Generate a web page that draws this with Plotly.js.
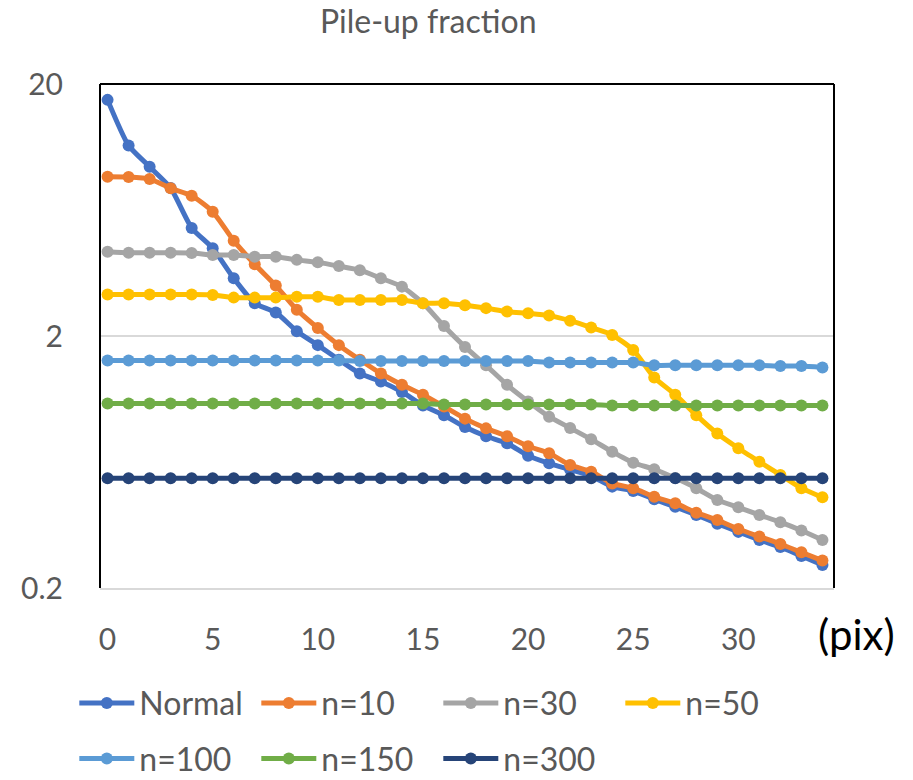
<!DOCTYPE html>
<html>
<head>
<meta charset="utf-8">
<script src="https://cdn.plot.ly/plotly-3.0.1.min.js"></script>
<style>html,body{margin:0;padding:0;background:#fff;}#chart{width:913px;height:780px;}</style>
</head>
<body>
<div id="chart"></div>
<script>
const xPix = [0,1,2,3,4,5,6,7,8,9,10,11,12,13,14,15,16,17,18,19,20,21,22,23,24,25,26,27,28,29,30,31,32,33,34];
const normal = [17.3,11.4,9.39,7.73,5.37,4.46,3.39,2.70,2.48,2.09,1.84,1.61,1.42,1.32,1.20,1.06,0.97,0.87,0.80,0.75,0.67,0.625,0.59,0.556,0.505,0.485,0.45,0.42,0.39,0.36,0.334,0.31,0.291,0.268,0.247];
const n10 = [8.57,8.55,8.40,7.71,7.21,6.23,4.78,3.85,3.17,2.54,2.15,1.84,1.61,1.42,1.28,1.17,1.05,0.94,0.86,0.80,0.73,0.685,0.615,0.579,0.52,0.498,0.46,0.434,0.398,0.372,0.343,0.32,0.299,0.277,0.257];
const n30 = [4.32,4.28,4.28,4.28,4.27,4.19,4.19,4.13,4.13,4.01,3.92,3.79,3.65,3.39,3.14,2.70,2.19,1.81,1.53,1.28,1.10,0.957,0.863,0.778,0.695,0.628,0.592,0.546,0.498,0.447,0.418,0.39,0.365,0.338,0.31];
const n50 = [2.92,2.92,2.92,2.92,2.92,2.91,2.84,2.84,2.84,2.86,2.86,2.78,2.78,2.78,2.78,2.70,2.70,2.65,2.58,2.50,2.46,2.41,2.30,2.16,2.02,1.76,1.37,1.17,0.97,0.82,0.717,0.634,0.562,0.498,0.458];
const n100 = [1.60,1.60,1.60,1.60,1.60,1.60,1.60,1.60,1.60,1.60,1.60,1.60,1.59,1.59,1.59,1.59,1.59,1.59,1.59,1.59,1.59,1.57,1.57,1.57,1.57,1.57,1.53,1.53,1.53,1.53,1.53,1.53,1.52,1.52,1.50];
const n150 = [1.08,1.08,1.08,1.08,1.08,1.08,1.08,1.08,1.08,1.08,1.08,1.08,1.08,1.08,1.08,1.08,1.07,1.07,1.07,1.07,1.07,1.07,1.07,1.07,1.06,1.06,1.06,1.06,1.06,1.06,1.06,1.06,1.06,1.06,1.06];
const n300 = [0.545,0.545,0.545,0.545,0.545,0.545,0.545,0.545,0.545,0.545,0.545,0.545,0.545,0.545,0.545,0.545,0.545,0.545,0.545,0.545,0.545,0.545,0.545,0.545,0.545,0.545,0.545,0.545,0.545,0.545,0.545,0.545,0.545,0.545,0.545];

const seriesNames = ["Normal","n=10","n=30","n=50","n=100","n=150","n=300"];
const seriesData = [normal,n10,n30,n50,n100,n150,n300];
const colors = ["#4472C4","#ED7D31","#A5A5A5","#FFC000","#5B9BD5","#70AD47","#264478"];
const xTicks = [0,5,10,15,20,25,30];
const yTicks = [0.2,2,20];

const FONT = "Lato, 'Open Sans', sans-serif";
const traces = seriesNames.map((nm,i)=>({
  x: xPix, y: seriesData[i], name: nm, type: 'scatter', mode: 'lines+markers',
  legend: i < 4 ? 'legend' : 'legend2',
  line: {color: colors[i], width: 5, shape: 'spline', smoothing: 0.6},
  marker: {color: colors[i], size: 12, symbol: 'circle'}
}));

const legendCommon = {orientation: 'h', xanchor: 'left', yanchor: 'top',
  entrywidth: 112, entrywidthmode: 'pixels', itemwidth: 55,
  font: {family: FONT, size: 32, color: '#595959'}, bgcolor: 'rgba(0,0,0,0)'};

const layout = {
  width: 913, height: 780,
  margin: {l: 100, r: 79, t: 84, b: 192, autoexpand: false},
  paper_bgcolor: '#fff', plot_bgcolor: '#fff',
  showlegend: true,
  title: {text: 'Pile-up fraction', x: 0.469, xanchor: 'center', y: 0.972, yanchor: 'middle',
          font: {family: FONT, size: 32, color: '#595959'}},
  xaxis: {range: [-0.36, 34.55], tickvals: xTicks, ticktext: xTicks.map(String),
          showgrid: false, zeroline: false, showline: true, linecolor: '#D9D9D9', linewidth: 2,
          ticks: '', ticklen: 0, ticklabelstandoff: 24, tickfont: {family: FONT, size: 30, color: '#595959'}},
  yaxis: {type: 'log', range: [Math.log10(0.2), Math.log10(20)], tickvals: yTicks, ticktext: yTicks.map(String),
          showgrid: true, gridcolor: '#D9D9D9', gridwidth: 1.5, zeroline: false, showline: false,
          ticks: '', ticklen: 0, ticklabelstandoff: 36, tickfont: {family: FONT, size: 30, color: '#595959'}},
  legend: Object.assign({}, legendCommon, {x: -0.035, y: -0.174}),
  legend2: Object.assign({}, legendCommon, {x: -0.035, y: -0.284}),
  shapes: [
    {type:'line', xref:'paper', yref:'paper', x0:0, x1:0, y0:0, y1:1, line:{color:'#000', width:2}},
    {type:'line', xref:'paper', yref:'paper', x0:0, x1:1, y0:1, y1:1, line:{color:'#000', width:2}},
    {type:'line', xref:'paper', yref:'paper', x0:1, x1:1, y0:0, y1:1, line:{color:'#000', width:2}}
  ],
  annotations: [
    {text: '(pix)', xref: 'paper', yref: 'paper', x: 1.03, y: -0.092, xanchor: 'center', yanchor: 'middle',
     showarrow: false, font: {family: FONT, size: 42, color: '#000'}}
  ]
};

Plotly.newPlot('chart', traces, layout, {displayModeBar: false, staticPlot: true});
</script>
</body>
</html>
